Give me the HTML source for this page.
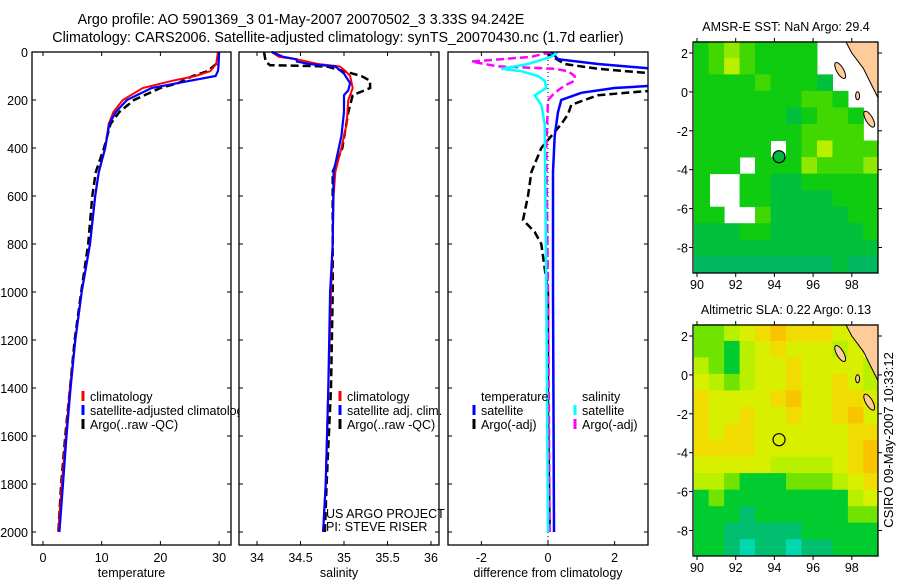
<!DOCTYPE html>
<html><head><meta charset="utf-8"><style>
body{margin:0;background:#fff;}
svg text{font-family:"Liberation Sans",sans-serif;fill:#000;}
</style></head><body>
<svg id="fig" xmlns="http://www.w3.org/2000/svg" width="900" height="580" viewBox="0 0 900 580">
<rect width="900" height="580" fill="#fff"/>
<text x="301" y="24" font-size="14.3" text-anchor="middle">Argo profile: AO 5901369_3 01-May-2007 20070502_3 3.33S 94.242E</text>
<text x="338" y="42" font-size="14.3" text-anchor="middle">Climatology: CARS2006. Satellite-adjusted climatology: synTS_20070430.nc (1.7d earlier)</text>
<defs><clipPath id="cp3"><rect x="448" y="52" width="200" height="493"/></clipPath></defs>
<g id="g1"></g><g id="g2"></g><g id="g3"></g><g id="g4"></g><g id="g5"></g>
<text transform="translate(893,440) rotate(-90)" font-size="13" text-anchor="middle">CSIRO 09-May-2007 10:33:12</text>
</svg>
<script>
// ---- Temperature profiles (depth m, temp C)
const tClimD=[0,50,80,100,120,150,200,250,300,400,500,600,800,1000,1200,1400,1600,1800,2000];
const tClimV=[29.8,29.5,28.5,26,22,17,13.6,12,11.2,10.6,9.5,8.9,8.0,6.6,5.5,4.6,3.9,3.2,2.6];
const tSatD=[0,60,80,100,120,150,200,250,300,400,500,600,800,1000,1200,1400,1600,1800,2000];
const tSatV=[30,29.9,29.8,29.4,25,18.5,14.3,12.4,11.3,10.6,9.5,8.9,8.0,6.6,5.5,4.7,4.0,3.4,2.8];
const tArgD=[0,50,80,100,130,150,200,250,300,400,500,600,800,1000,1200,1400,1600,1800,2000];
const tArgV=[30,29.5,28,25.5,23,20,15.5,13,11.5,10.4,9.0,8.4,7.7,6.5,5.4,4.6,3.8,3.1,2.6];
// ---- Salinity profiles
const sClimD=[0,20,30,50,60,80,100,150,200,300,400,500,600,800,1000,1400,1800,2000];
const sClimV=[34.17,34.25,34.45,34.7,34.95,35.02,35.07,35.1,35.05,35.03,34.97,34.9,34.88,34.87,34.85,34.82,34.79,34.76];
const sSatD=[0,20,30,40,50,60,90,130,160,180,250,350,500,800,1000,1400,1800,2000];
const sSatV=[34.17,34.3,34.45,34.46,34.6,34.9,35.0,35.07,35.05,35.0,35.0,34.97,34.88,34.87,34.84,34.82,34.79,34.76];
const sArgD=[0,40,55,60,80,100,120,150,180,250,400,500,800,1000,1400,1800,2000];
const sArgV=[34.08,34.1,34.15,34.8,35.0,35.2,35.3,35.3,35.1,35.05,34.98,34.87,34.87,34.87,34.85,34.8,34.78];
// ---- Differences
const dTSatD=[0,30,50,70,140,150,170,200,250,350,500,1000,2000];
const dTSatV=[0.1,0.3,1.5,3.2,3.2,2.0,1.0,0.4,0.3,0.2,0.15,0.15,0.18];
const dTArgD=[0,50,70,90,160,180,220,260,300,400,500,600,700,750,800,1000,1500,2000];
const dTArgV=[-0.1,0.5,1.5,3.2,3.2,1.5,0.7,0.6,0.4,-0.2,-0.5,-0.6,-0.75,-0.4,-0.2,0.0,0.0,0.05];
const dSSatD=[0,20,50,70,80,100,120,150,180,220,300,1000,2000];
const dSSatV=[0.3,0.1,-0.6,-1.4,-0.8,-0.3,-0.1,-0.05,-0.4,-0.2,-0.1,-0.05,0.0];
const dSArgD=[0,20,40,60,70,80,100,120,140,170,200,400,1000,2000];
const dSArgV=[0.1,-0.5,-2.3,-1.5,0.2,0.6,0.8,0.8,0.5,0.2,0.0,-0.05,0.0,0.05];
// ---- Map grids (12 lon cols x 14 lat rows, colour level, null = no data)
const n=null;
const sstGrid=[
[5,6,7,6,5,5,5,5,n,n,n,n],[5,6,8,6,5,5,5,5,n,n,n,n],[5,5,5,5,6,5,5,5,4,n,n,n],
[5,5,5,5,5,5,5,6,6,5,n,n],[5,5,5,5,5,5,4,5,6,6,5,n],[5,5,5,5,5,5,5,6,6,6,6,n],
[5,5,5,5,5,n,5,6,8,6,6,6],[5,5,5,n,5,5,5,7,6,6,6,7],[5,n,n,5,5,4,4,5,5,5,5,5],
[5,n,n,5,5,4,4,4,4,5,5,5],[5,5,n,n,6,4,4,4,4,4,5,5],[4,4,4,5,5,4,4,4,4,4,4,5],
[4,4,4,4,4,4,4,4,4,4,4,4],[3,3,3,3,3,3,3,3,3,4,3,3]];
const slaGrid=[
[5,5,6,7,8,9,8,8,8,7,7,n],[5,5,4,6,7,8,7,7,7,6,7,n],[6,5,4,6,7,7,8,7,7,7,7,6],
[7,6,5,6,7,7,8,7,7,8,7,6],[8,7,7,7,7,8,9,7,7,8,8,7],[8,7,7,8,7,7,8,7,7,8,9,7],
[8,7,8,8,7,7,7,7,7,7,8,8],[8,8,8,8,7,7,7,7,7,7,8,9],[7,7,7,7,7,6,6,6,6,7,8,9],
[6,6,5,4,4,4,5,5,5,6,7,8],[4,5,4,4,4,4,4,4,4,4,6,7],[4,4,4,3,4,4,4,4,4,4,5,5],
[4,4,3,3,3,3,3,4,4,4,4,4],[4,4,3,2,3,3,2,3,3,4,4,4]];
const sstColors=["#00d0c0","#00c0a0","#00c080","#00b860","#00c03c","#10cc10","#40d800","#90e800","#b8f000","#d8f800"];
const slaColors=["#00e0d0","#00d8c0","#00d8b0","#00c070","#00cc30","#70e400","#b8f000","#d8f000","#f0dc00","#f8c400"];
const depthTicks=[0,200,400,600,800,1000,1200,1400,1600,1800,2000];
const tempTicks=[0,10,20,30];
const salTicks=[34,34.5,35,35.5,36];
const diffTicks=[-2,0,2];
const latTicks=[2,0,-2,-4,-6,-8];
const lonTicks=[90,92,94,96,98];

const NS="http://www.w3.org/2000/svg";
function mk(tag,attrs,parent,txt){const e=document.createElementNS(NS,tag);for(const k in attrs)e.setAttribute(k,attrs[k]);if(txt!==undefined)e.textContent=txt;parent.appendChild(e);return e;}
const yD=d=>52+d*0.24;
const PT=52,PB=545;

function panel(g,x0,x1,xs,ticks,label,showY,name){
  const box=mk('rect',{x:x0,y:PT,width:x1-x0,height:PB-PT,fill:'#fff'},g);
  
  
  ticks.forEach(t=>{const x=xs(t);
    mk('line',{x1:x,x2:x,y1:PT,y2:PT+4,stroke:'#000'},g);
    mk('line',{x1:x,x2:x,y1:PB,y2:PB-4,stroke:'#000'},g);
    const tl=mk('text',{x:x,y:562,'font-size':12.5,'text-anchor':'middle'},g,String(t));
    
    
  });
  depthTicks.forEach(d=>{const y=yD(d);
    mk('line',{x1:x0,x2:x0+4,y1:y,y2:y,stroke:'#000'},g);
    mk('line',{x1:x1,x2:x1-4,y1:y,y2:y,stroke:'#000'},g);
    if(showY){const tl=mk('text',{x:28,y:y+5,'font-size':12.5,'text-anchor':'end'},g,String(d));
      
      }
  });
  const lab=mk('text',{x:(x0+x1)/2,y:577,'font-size':12.5,'text-anchor':'middle'},g,label);
  
  
}
function frame(g,x0,x1){mk('rect',{x:x0,y:PT,width:x1-x0,height:PB-PT,fill:'none',stroke:'#000','stroke-width':1.3},g);}
function series(g,D,V,xs,color,dash,w,name,clip){
  const pts=D.map((d,i)=>xs(V[i]).toFixed(1)+','+yD(d).toFixed(1)).join(' ');
  const a={points:pts,fill:'none',stroke:color,'stroke-width':w};
  if(dash)a['stroke-dasharray']=dash;
  if(clip)a['clip-path']=clip;
  const p=mk('polyline',a,g);
  
  
}
function legend(g,x,y,color,text,name){
  mk('line',{x1:x,x2:x,y1:y-10,y2:y,stroke:color,'stroke-width':3},g);
  const t=mk('text',{x:x+7,y:y,'font-size':12.5},g,text);
  
  
}
// Temperature panel
const g1=document.getElementById('g1');
const xT=t=>43+t*5.87;
panel(g1,32,231,xT,tempTicks,'temperature',true,'temperature');
series(g1,tArgD,tArgV,xT,'#000','8,4',2.5,'temperature-argo-line');
series(g1,tClimD,tClimV,xT,'#ff0000',null,2,'temperature-climatology-line');
series(g1,tSatD,tSatV,xT,'#0000ff',null,2.2,'temperature-satellite-line');
legend(g1,83,401,'#ff0000','climatology','legend-climatology');
legend(g1,83,415,'#0000ff','satellite-adjusted climatology','legend-satellite-adjusted');
legend(g1,83,429,'#000','Argo(..raw -QC)','legend-argo');
frame(g1,32,231);
// Salinity panel
const g2=document.getElementById('g2');
const xS=s=>257+(s-34)*87;
panel(g2,239,439,xS,salTicks,'salinity',false,'salinity');
series(g2,sArgD,sArgV,xS,'#000','8,4',2.5,'salinity-argo-line');
series(g2,sClimD,sClimV,xS,'#ff0000',null,2,'salinity-climatology-line');
series(g2,sSatD,sSatV,xS,'#0000ff',null,2.2,'salinity-satellite-line');
legend(g2,340,401,'#ff0000','climatology','sal-legend-climatology');
legend(g2,340,415,'#0000ff','satellite adj. clim.','sal-legend-satellite');
legend(g2,340,429,'#000','Argo(..raw -QC)','sal-legend-argo');
const u1=mk('text',{x:326,y:518,'font-size':12.5},g2,'US ARGO PROJECT');

const u2=mk('text',{x:326,y:531,'font-size':12.5},g2,'PI: STEVE RISER');

frame(g2,239,439);
// Difference panel
const g3=document.getElementById('g3');
const xF=v=>548+v*33.3;
panel(g3,448,648,xF,diffTicks,'difference from climatology',false,'difference');
mk('line',{x1:xF(0),x2:xF(0),y1:PT,y2:PB,stroke:'#000','stroke-dasharray':'1,3'},g3);
series(g3,dTArgD,dTArgV,xF,'#000','8,4',2.5,'diff-temperature-argo-line','url(#cp3)');
series(g3,dSArgD,dSArgV,xF,'#ff00ff','8,4',2.5,'diff-salinity-argo-line','url(#cp3)');
series(g3,dTSatD,dTSatV,xF,'#0000ff',null,2.5,'diff-temperature-satellite-line','url(#cp3)');
series(g3,dSSatD,dSSatV,xF,'#00ffff',null,2.5,'diff-salinity-satellite-line','url(#cp3)');
const lt=mk('text',{x:481,y:401,'font-size':12.5},g3,'temperature');

const ls=mk('text',{x:582,y:401,'font-size':12.5},g3,'salinity');

legend(g3,474,415,'#0000ff','satellite','legend-temp-satellite');
legend(g3,474,429,'#000','Argo(-adj)','legend-temp-argo');
legend(g3,575,415,'#00ffff','satellite','legend-sal-satellite');
legend(g3,575,429,'#ff00ff','Argo(-adj)','legend-sal-argo');
frame(g3,448,648);
// Maps
function map(g,top,grid,colors,title,name,filledDot){
  const bx0=693,bx1=878,by0=top,by1=top+231;
  const lat2=top+11;
  const X=lon=>697+(lon-90)*19.35, Y=lat=>lat2+(2-lat)*19.45;
  mk('rect',{x:bx0,y:by0,width:bx1-bx0,height:by1-by0,fill:'#fff'},g);
  grid.forEach((row,r)=>row.forEach((v,c)=>{
    if(v===null)return;
    const lon0=89.8+c*0.8,lat0=2.6-r*0.85;
    const x=Math.max(X(lon0),bx0+1),y=Y(lat0);
    const cell=mk('rect',{x:x.toFixed(1),y:y.toFixed(1),width:(0.8*19.35+0.5).toFixed(1),height:(0.85*19.45+0.5).toFixed(1),fill:colors[v]},g);
    
    
  }));
  mk('clipPath',{id:name+'-clip'},g);
  // land (Sumatra coast & islands)
  mk('polygon',{points:`${X(97.7)},${by0} ${bx1},${by0} ${bx1},${Y(-0.3)} ${X(99.0)},${Y(0.4)} ${X(98.6)},${Y(1.2)} ${X(98.0)},${Y(2.0)}`,fill:'#ffcc99',stroke:'#000','stroke-width':1},g);
  mk('ellipse',{cx:X(97.4),cy:Y(1.1),rx:3.5,ry:9,transform:`rotate(-30 ${X(97.4)} ${Y(1.1)})`,fill:'#ffcc99',stroke:'#000'},g);
  mk('ellipse',{cx:X(98.9),cy:Y(-1.4),rx:3.5,ry:9,transform:`rotate(-30 ${X(98.9)} ${Y(-1.4)})`,fill:'#ffcc99',stroke:'#000'},g);
  mk('ellipse',{cx:X(98.3),cy:Y(-0.2),rx:2,ry:4,fill:'#ffcc99',stroke:'#000'},g);
  mk('rect',{x:bx1,y:by0,width:10,height:by1-by0,fill:'#fff'},g);
  mk('rect',{x:bx0,y:by0,width:bx1-bx0,height:by1-by0,fill:'none',stroke:'#000','stroke-width':1.3},g);
  latTicks.forEach(l=>{const y=Y(l);
    mk('line',{x1:bx0-4,x2:bx0,y1:y,y2:y,stroke:'#000'},g);
    mk('line',{x1:bx1,x2:bx1+4,y1:y,y2:y,stroke:'#000'},g);
    const t=mk('text',{x:688,y:y+5,'font-size':12.5,'text-anchor':'end'},g,String(l));
    });
  lonTicks.forEach(l=>{const x=X(l);
    mk('line',{x1:x,x2:x,y1:by1,y2:by1+4,stroke:'#000'},g);
    mk('line',{x1:x,x2:x,y1:by0-4,y2:by0,stroke:'#000'},g);
    const t=mk('text',{x:x,y:by1+16,'font-size':12.5,'text-anchor':'middle'},g,String(l));
    });
  const tt=mk('text',{x:786,y:top-11,'font-size':12.5,'text-anchor':'middle'},g,title);
  
  const dot=mk('circle',{cx:X(94.24),cy:Y(-3.33),r:6,fill:filledDot?'#00b840':'none',stroke:'#000','stroke-width':1.2},g);
  
}
map(document.getElementById('g4'),42,sstGrid,sstColors,'AMSR-E SST: NaN Argo: 29.4','sst-map',true);
map(document.getElementById('g5'),325,slaGrid,slaColors,'Altimetric SLA: 0.22 Argo: 0.13','sla-map',false);
</script>
</body></html>
